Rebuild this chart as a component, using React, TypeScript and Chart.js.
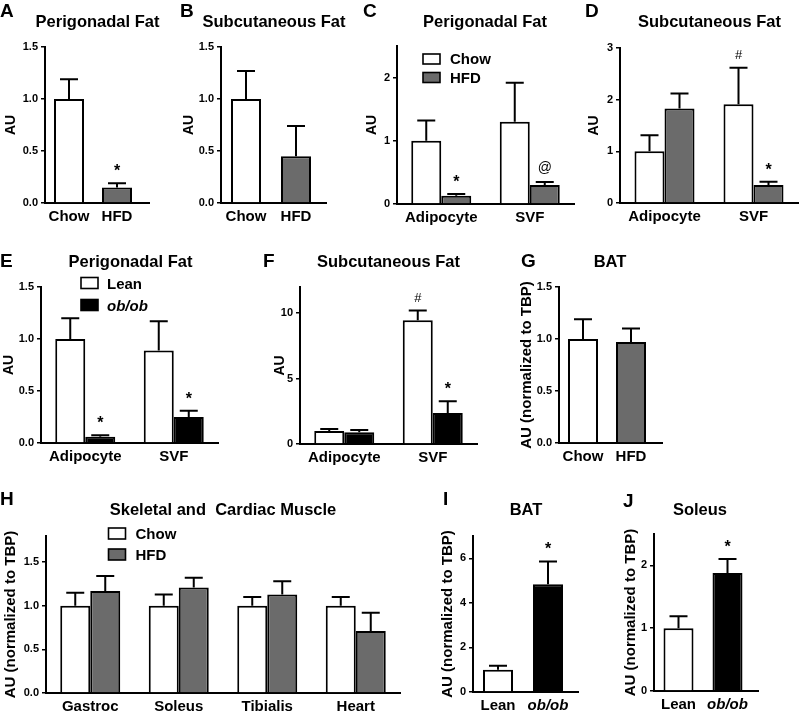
import React, { useEffect, useRef } from "react";
import { Chart, registerables } from "chart.js";

Chart.register(...registerables);

const FONT = "'Liberation Sans', Arial, Helvetica, sans-serif";
const WHITE = "#ffffff";
const GREY = "#6b6b6b";
const BLACK = "#000000";

// ---------- DATA ----------
// A: Perigonadal fat, diet
const aCategories = ["Chow", "HFD"];
const aValues = [1.0, 0.15];
const aErrors = [0.19, 0.04];
const aMarks = ["", "*"];

// B: Subcutaneous fat, diet
const bCategories = ["Chow", "HFD"];
const bValues = [1.0, 0.45];
const bErrors = [0.27, 0.29];
const bMarks = ["", ""];

// C: Perigonadal fat, fractions, diet
const cCategories = ["Adipocyte", "SVF"];
const cChow = [1.0, 1.3];
const cChowErr = [0.32, 0.62];
const cChowMarks = ["", ""];
const cHfd = [0.13, 0.3];
const cHfdErr = [0.03, 0.05];
const cHfdMarks = ["*", "@"];

// D: Subcutaneous fat, fractions, diet
const dCategories = ["Adipocyte", "SVF"];
const dChow = [1.0, 1.91];
const dChowErr = [0.31, 0.71];
const dChowMarks = ["", "#"];
const dHfd = [1.83, 0.35];
const dHfdErr = [0.29, 0.06];
const dHfdMarks = ["", "*"];

// E: Perigonadal fat, fractions, genotype
const eCategories = ["Adipocyte", "SVF"];
const eLean = [1.0, 0.89];
const eLeanErr = [0.2, 0.28];
const eLeanMarks = ["", ""];
const eOb = [0.06, 0.25];
const eObErr = [0.015, 0.06];
const eObMarks = ["*", "*"];

// F: Subcutaneous fat, fractions, genotype
const fCategories = ["Adipocyte", "SVF"];
const fLean = [1.0, 9.45];
const fLeanErr = [0.15, 0.75];
const fLeanMarks = ["", "#"];
const fOb = [0.9, 2.37];
const fObErr = [0.17, 0.9];
const fObMarks = ["", "*"];

// G: BAT, diet
const gCategories = ["Chow", "HFD"];
const gValues = [1.0, 0.97];
const gErrors = [0.19, 0.13];
const gMarks = ["", ""];

// H: Skeletal and cardiac muscle, diet
const hCategories = ["Gastroc", "Soleus", "Tibialis", "Heart"];
const hChow = [1.0, 1.0, 1.0, 1.0];
const hChowErr = [0.15, 0.13, 0.1, 0.1];
const hChowMarks = ["", "", "", ""];
const hHfd = [1.17, 1.21, 1.13, 0.71];
const hHfdErr = [0.17, 0.11, 0.15, 0.21];
const hHfdMarks = ["", "", "", ""];

// I: BAT, genotype
const iCategories = ["Lean", "ob/ob"];
const iValues = [1.0, 4.83];
const iErrors = [0.18, 1.03];
const iMarks = ["", "*"];

// J: Soleus, genotype
const jCategories = ["Lean", "ob/ob"];
const jValues = [1.0, 1.88];
const jErrors = [0.19, 0.22];
const jMarks = ["", "*"];

// ---------- PANEL DEFINITIONS ----------
type Series = {
  label: string;
  values: number[];
  errors: number[];
  marks: string[];
  colors: string | string[];
};

type Panel = {
  letter: string;
  title: string;
  categories: string[];
  series: Series[];
  yTitle: string;
  yMax: number;
  yStep: number;
  decimals: number;
  box: {
    left: number;
    right: number;
    top: number;
    bottom: number;
    ext: number;
    yTitleX: number;
    yTitleSize: number;
  };
  letterPos: [number, number];
  titlePos: [number, number];
  legend?: { x: number; y: number; gap: number; h: number; textDx: number };
};

const panels: Panel[] = [
  {
    letter: "A",
    title: "Perigonadal Fat",
    categories: aCategories,
    series: [{ label: "", values: aValues, errors: aErrors, marks: aMarks, colors: [WHITE, GREY] }],
    yTitle: "AU",
    yMax: 1.5,
    yStep: 0.5,
    decimals: 1,
    box: { left: 45, right: 141, top: 47, bottom: 203, ext: 9, yTitleX: 11, yTitleSize: 14 },
    letterPos: [0, 17],
    titlePos: [97.5, 27],
  },
  {
    letter: "B",
    title: "Subcutaneous Fat",
    categories: bCategories,
    series: [{ label: "", values: bValues, errors: bErrors, marks: bMarks, colors: [WHITE, GREY] }],
    yTitle: "AU",
    yMax: 1.5,
    yStep: 0.5,
    decimals: 1,
    box: { left: 221, right: 321, top: 47, bottom: 203, ext: 6, yTitleX: 189, yTitleSize: 14 },
    letterPos: [180, 17],
    titlePos: [274, 27],
  },
  {
    letter: "C",
    title: "Perigonadal Fat",
    categories: cCategories,
    series: [
      { label: "Chow", values: cChow, errors: cChowErr, marks: cChowMarks, colors: WHITE },
      { label: "HFD", values: cHfd, errors: cHfdErr, marks: cHfdMarks, colors: GREY },
    ],
    yTitle: "AU",
    yMax: 2.5,
    yStep: 1,
    decimals: 0,
    box: { left: 397, right: 574, top: 45.5, bottom: 203, ext: 0, yTitleX: 372.5, yTitleSize: 14 },
    letterPos: [363, 17],
    titlePos: [485, 27],
    legend: { x: 423, y: 54, gap: 18.5, h: 10, textDx: 27 },
  },
  {
    letter: "D",
    title: "Subcutaneous Fat",
    categories: dCategories,
    series: [
      { label: "Chow", values: dChow, errors: dChowErr, marks: dChowMarks, colors: WHITE },
      { label: "HFD", values: dHfd, errors: dHfdErr, marks: dHfdMarks, colors: GREY },
    ],
    yTitle: "AU",
    yMax: 3,
    yStep: 1,
    decimals: 0,
    box: { left: 620, right: 798, top: 48, bottom: 203, ext: 0, yTitleX: 594, yTitleSize: 14 },
    letterPos: [585, 17],
    titlePos: [709.5, 27],
  },
  {
    letter: "E",
    title: "Perigonadal Fat",
    categories: eCategories,
    series: [
      { label: "Lean", values: eLean, errors: eLeanErr, marks: eLeanMarks, colors: WHITE },
      { label: "ob/ob", values: eOb, errors: eObErr, marks: eObMarks, colors: BLACK },
    ],
    yTitle: "AU",
    yMax: 1.5,
    yStep: 0.5,
    decimals: 1,
    box: { left: 41, right: 218, top: 287, bottom: 443, ext: 0, yTitleX: 9, yTitleSize: 14 },
    letterPos: [0, 267],
    titlePos: [130.5, 267],
    legend: { x: 81, y: 277.5, gap: 22, h: 11, textDx: 26 },
  },
  {
    letter: "F",
    title: "Subcutaneous Fat",
    categories: fCategories,
    series: [
      { label: "Lean", values: fLean, errors: fLeanErr, marks: fLeanMarks, colors: WHITE },
      { label: "ob/ob", values: fOb, errors: fObErr, marks: fObMarks, colors: BLACK },
    ],
    yTitle: "AU",
    yMax: 12,
    yStep: 5,
    decimals: 0,
    box: { left: 300, right: 477, top: 287, bottom: 444, ext: 0, yTitleX: 280, yTitleSize: 14 },
    letterPos: [263, 267],
    titlePos: [388.5, 267],
  },
  {
    letter: "G",
    title: "BAT",
    categories: gCategories,
    series: [{ label: "", values: gValues, errors: gErrors, marks: gMarks, colors: [WHITE, GREY] }],
    yTitle: "AU (normalized to TBP)",
    yMax: 1.5,
    yStep: 0.5,
    decimals: 1,
    box: { left: 559, right: 655, top: 287, bottom: 443, ext: 8, yTitleX: 527, yTitleSize: 15 },
    letterPos: [521, 267],
    titlePos: [610, 267],
  },
  {
    letter: "H",
    title: "Skeletal and  Cardiac Muscle",
    categories: hCategories,
    series: [
      { label: "Chow", values: hChow, errors: hChowErr, marks: hChowMarks, colors: WHITE },
      { label: "HFD", values: hHfd, errors: hHfdErr, marks: hHfdMarks, colors: GREY },
    ],
    yTitle: "AU (normalized to TBP)",
    yMax: 1.8,
    yStep: 0.5,
    decimals: 1,
    box: { left: 46, right: 400, top: 536, bottom: 693, ext: 0, yTitleX: 11, yTitleSize: 15 },
    letterPos: [0, 505],
    titlePos: [223, 515],
    legend: { x: 108.5, y: 528, gap: 21, h: 11, textDx: 27 },
  },
  {
    letter: "I",
    title: "BAT",
    categories: iCategories,
    series: [{ label: "", values: iValues, errors: iErrors, marks: iMarks, colors: [WHITE, BLACK] }],
    yTitle: "AU (normalized to TBP)",
    yMax: 7,
    yStep: 2,
    decimals: 0,
    box: { left: 473, right: 573, top: 536, bottom: 692, ext: 6, yTitleX: 447.5, yTitleSize: 15 },
    letterPos: [443, 505],
    titlePos: [526, 515],
  },
  {
    letter: "J",
    title: "Soleus",
    categories: jCategories,
    series: [{ label: "", values: jValues, errors: jErrors, marks: jMarks, colors: [WHITE, BLACK] }],
    yTitle: "AU (normalized to TBP)",
    yMax: 2.5,
    yStep: 1,
    decimals: 0,
    box: { left: 654, right: 752, top: 534, bottom: 691, ext: 7, yTitleX: 631, yTitleSize: 15 },
    letterPos: [623, 507],
    titlePos: [700, 515],
  },
];

// ---------- PLUGINS ----------
const MARK_STYLE: Record<string, { font: string; dy: number }> = {
  "*": { font: `bold 16px ${FONT}`, dy: 7 },
  "#": { font: `13px ${FONT}`, dy: 9 },
  "@": { font: `14px ${FONT}`, dy: 9.5 },
};

const errorBarPlugin = {
  id: "errorBars",
  afterDatasetsDraw(chart: any) {
    const ctx = chart.ctx;
    const yScale = chart.scales.y;
    chart.data.datasets.forEach((ds: any, i: number) => {
      const meta = chart.getDatasetMeta(i);
      meta.data.forEach((bar: any, j: number) => {
        const v = ds.data[j];
        const err = ds.errors ? ds.errors[j] : 0;
        const topPx = yScale.getPixelForValue(v + err);
        const x = bar.x;
        const half = 9;
        ctx.save();
        ctx.strokeStyle = BLACK;
        ctx.lineWidth = 2;
        ctx.beginPath();
        ctx.moveTo(x, bar.y);
        ctx.lineTo(x, topPx);
        ctx.moveTo(x - half, topPx);
        ctx.lineTo(x + half, topPx);
        ctx.stroke();
        const m = ds.marks ? ds.marks[j] : "";
        if (m) {
          const st = MARK_STYLE[m] || MARK_STYLE["*"];
          ctx.fillStyle = BLACK;
          ctx.font = st.font;
          ctx.textAlign = "center";
          ctx.textBaseline = "alphabetic";
          ctx.fillText(m, x, topPx - st.dy);
        }
        ctx.restore();
      });
    });
  },
};

const axisExtendPlugin = {
  id: "axisExtend",
  afterDraw(chart: any, _args: any, opts: any) {
    const ext = opts && opts.ext;
    if (!ext) return;
    const ctx = chart.ctx;
    const y = Math.round(chart.scales.x.top);
    ctx.save();
    ctx.strokeStyle = BLACK;
    ctx.lineWidth = 2;
    ctx.beginPath();
    ctx.moveTo(chart.chartArea.right - 1, y);
    ctx.lineTo(chart.chartArea.right + ext, y);
    ctx.stroke();
    ctx.restore();
  },
};

// ---------- COMPONENTS ----------
function geometry(p: Panel) {
  const b = p.box;
  const canvasLeft = Math.max(0, b.left - 50);
  const yw = b.left - canvasLeft;
  const pt = 12;
  const xh = 28;
  const padRight = b.ext + 6;
  const canvasTop = b.top - pt;
  const width = Math.round(b.right - canvasLeft + padRight);
  const height = Math.round(b.bottom - b.top + pt + xh);
  return { canvasLeft, canvasTop, yw, pt, xh, padRight, width, height };
}

function BarPanel({ p }: { p: Panel }) {
  const ref = useRef<HTMLCanvasElement>(null);
  const g = geometry(p);

  useEffect(() => {
    if (!ref.current) return;
    const b = p.box;
    const nCat = p.categories.length;
    const nSer = p.series.length;
    const catW = (b.right - b.left) / nCat;
    const barPx = 30;
    const grouped = nSer > 1;
    const categoryPercentage = grouped ? (barPx * nSer) / catW : 1;
    const barPercentage = grouped ? 1 : barPx / catW;
    const lh = p.box.yTitleSize * 1.2;
    const titlePad = b.yTitleX - g.canvasLeft - lh / 2;

    const chart = new Chart(ref.current, {
      type: "bar",
      data: {
        labels: p.categories,
        datasets: p.series.map((s) => ({
          label: s.label,
          data: s.values,
          backgroundColor: s.colors as any,
          borderColor: BLACK,
          borderWidth: 2,
          borderSkipped: "start",
          barPercentage,
          categoryPercentage,
          errors: s.errors,
          marks: s.marks,
        })) as any,
      },
      options: {
        animation: false,
        responsive: false,
        events: [],
        layout: { padding: { left: 0, top: g.pt, right: g.padRight, bottom: 0 } },
        plugins: {
          legend: { display: false },
          tooltip: { enabled: false },
          title: { display: false },
          axisExtend: { ext: b.ext },
        } as any,
        scales: {
          x: {
            type: "category",
            offset: true,
            grid: { display: false, drawTicks: false },
            border: { display: true, color: BLACK, width: 2 },
            ticks: {
              color: BLACK,
              padding: 5,
              autoSkip: false,
              maxRotation: 0,
              font: (c: any) => ({
                family: FONT,
                size: 15,
                weight: "bold",
                style: p.categories[c.index] === "ob/ob" ? "italic" : "normal",
              }),
            },
            afterFit: (s: any) => {
              s.height = g.xh;
            },
          } as any,
          y: {
            min: 0,
            max: p.yMax,
            ticks: {
              stepSize: p.yStep,
              color: BLACK,
              padding: 3,
              font: { family: FONT, size: 11, weight: "bold" },
              callback: (v: any) => Number(v).toFixed(p.decimals),
            },
            grid: {
              display: true,
              drawOnChartArea: false,
              drawTicks: true,
              tickLength: 4,
              color: BLACK,
              lineWidth: 1.5,
            },
            border: { display: true, color: BLACK, width: 2 },
            title: {
              display: true,
              text: p.yTitle,
              color: BLACK,
              font: { family: FONT, size: p.box.yTitleSize, weight: "bold" },
              padding: { top: titlePad, bottom: 0 },
            },
            afterBuildTicks: (s: any) => {
              s.ticks = s.ticks.filter((t: any) => {
                const r = t.value / p.yStep;
                return Math.abs(r - Math.round(r)) < 1e-6;
              });
            },
            afterFit: (s: any) => {
              s.width = g.yw;
            },
          } as any,
        },
      },
      plugins: [errorBarPlugin, axisExtendPlugin],
    });
    return () => chart.destroy();
  }, []);

  return (
    <canvas
      ref={ref}
      width={g.width}
      height={g.height}
      style={{
        position: "absolute",
        left: g.canvasLeft,
        top: g.canvasTop,
        width: g.width,
        height: g.height,
      }}
    />
  );
}

function Overlay() {
  return (
    <svg
      width={800}
      height={712}
      style={{ position: "absolute", left: 0, top: 0, pointerEvents: "none" }}
    >
      {panels.map((p) => (
        <g key={p.letter}>
          <text
            x={p.letterPos[0]}
            y={p.letterPos[1]}
            fontFamily={FONT}
            fontWeight="bold"
            fontSize={19}
            fill={BLACK}
          >
            {p.letter}
          </text>
          <text
            x={p.titlePos[0]}
            y={p.titlePos[1]}
            textAnchor="middle"
            fontFamily={FONT}
            fontWeight="bold"
            fontSize={16.5}
            fill={BLACK}
            style={{ whiteSpace: "pre" }}
            xmlSpace="preserve"
          >
            {p.title}
          </text>
          {p.legend &&
            p.series.map((s, k) => {
              const lg = p.legend!;
              const y = lg.y + k * lg.gap;
              const fill = Array.isArray(s.colors) ? s.colors[0] : s.colors;
              return (
                <g key={s.label}>
                  <rect
                    x={lg.x}
                    y={y}
                    width={17}
                    height={lg.h}
                    fill={fill}
                    stroke={BLACK}
                    strokeWidth={1.6}
                  />
                  <text
                    x={lg.x + lg.textDx}
                    y={y + lg.h}
                    fontFamily={FONT}
                    fontWeight="bold"
                    fontSize={15}
                    fontStyle={s.label === "ob/ob" ? "italic" : "normal"}
                    fill={BLACK}
                  >
                    {s.label}
                  </text>
                </g>
              );
            })}
        </g>
      ))}
    </svg>
  );
}

export default function App() {
  return (
    <div
      style={{
        position: "absolute",
        left: 0,
        top: 0,
        width: 800,
        height: 712,
        overflow: "hidden",
        background: "#ffffff",
      }}
    >
      {panels.map((p) => (
        <BarPanel key={p.letter} p={p} />
      ))}
      <Overlay />
    </div>
  );
}
